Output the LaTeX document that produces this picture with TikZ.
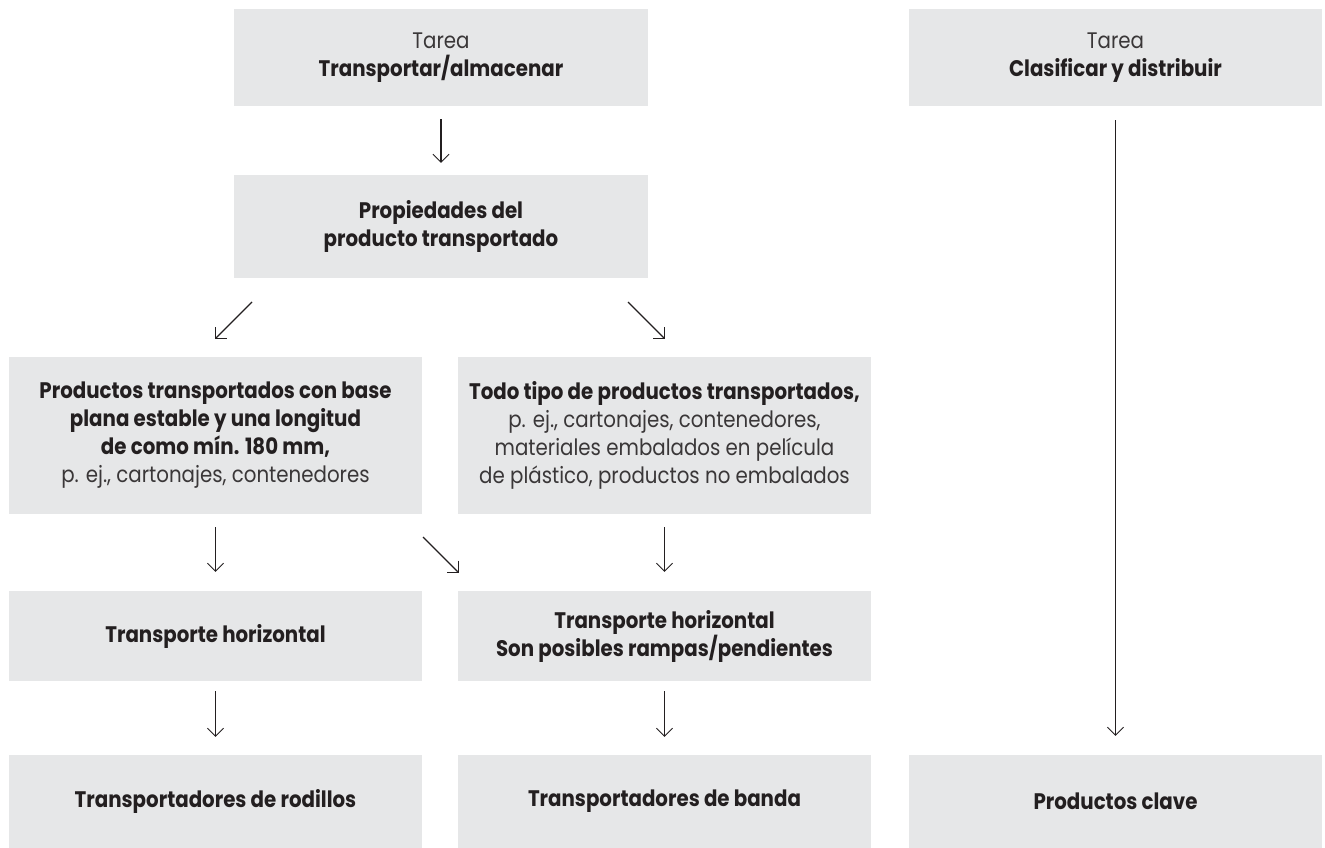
\documentclass[tikz,border=0pt]{standalone}
\usepackage{fontspec}
\setmainfont{Poppins}[FakeStretch=0.88]
\usetikzlibrary{arrows.meta}
\definecolor{boxfill}{HTML}{E6E7E8}
\definecolor{ink}{HTML}{231F20}
\definecolor{softink}{HTML}{3A3738}
\tikzset{
  box/.style={fill=boxfill, inner sep=0pt, align=center, text=ink,
    font=\fontsize{22.5}{28}\selectfont},
  wide/.style={minimum width=413pt},
  arr/.style={draw=ink, line width=1.3pt,
    -{Straight Barb[length=8pt,width=16pt,line width=0.9pt]}}
}
\newcommand{\reg}[1]{{\color{softink}#1}}
\begin{document}
\begin{tikzpicture}[x=1pt,y=-1pt]
\useasboundingbox (0,0) rectangle (1325,848);
% top row
\node[box, minimum width=414pt, minimum height=97pt] (A) at (441,57.5)
  {\reg{Tarea}\\\textbf{Transportar/almacenar}};
\node[box, wide, minimum height=97pt] (B) at (1115.5,57.5)
  {\reg{Tarea}\\\textbf{Clasificar y distribuir}};
\node[box, minimum width=414pt, minimum height=103pt] (C) at (441,226.5)
  {\textbf{Propiedades del}\\\textbf{producto transportado}};
% second row
\node[box, wide, minimum height=157pt] (D) at (215.5,435.5)
  {\textbf{Productos transportados con base}\\\textbf{plana estable y una longitud}\\\textbf{de como mín. 180 mm,}\\\reg{p. ej., cartonajes, contenedores}};
\node[box, wide, minimum height=157pt] (E) at (664.5,435.5)
  {\textbf{Todo tipo de productos transportados,}\\\reg{p. ej., cartonajes, contenedores,}\\\reg{materiales embalados en película}\\\reg{de plástico, productos no embalados}};
% third row
\node[box, wide, minimum height=90pt] (F) at (215.5,636)
  {\textbf{Transporte horizontal}};
\node[box, wide, minimum height=90pt] (G) at (664.5,636)
  {\textbf{Transporte horizontal}\\\textbf{Son posibles rampas/pendientes}};
% bottom row
\node[box, wide, minimum height=93pt] (H) at (215.5,801.5)
  {\textbf{Transportadores de rodillos}};
\node[box, wide, minimum height=93pt] (I) at (664.5,801.5)
  {\textbf{Transportadores de banda}};
\node[box, wide, minimum height=93pt] (J) at (1115.5,801.5)
  {\textbf{Productos clave}};
% diagonal arrow end points
\coordinate (c1s) at (252,302);
\coordinate (c1e) at (215,339);
\coordinate (c2s) at (628,302);
\coordinate (c2e) at (665,339);
\coordinate (dgs) at (423,537);
\coordinate (dge) at (458.5,572.5);
% connectors
\draw[arr, shorten <=13pt, shorten >=12pt] (A.south) -- (C.north);
\draw[arr, shorten <=14pt, shorten >=19pt] (B.south) -- (J.north);
\draw[arr] (c1s) -- (c1e);
\draw[arr] (c2s) -- (c2e);
\draw[arr, shorten <=13pt, shorten >=19pt] (D.south) -- (F.north);
\draw[arr, shorten <=13pt, shorten >=19pt] (E.south) -- (G.north);
\draw[arr] (dgs) -- (dge);
\draw[arr, shorten <=10pt, shorten >=18pt] (F.south) -- (H.north);
\draw[arr, shorten <=10pt, shorten >=18pt] (G.south) -- (I.north);
\end{tikzpicture}
\end{document}
